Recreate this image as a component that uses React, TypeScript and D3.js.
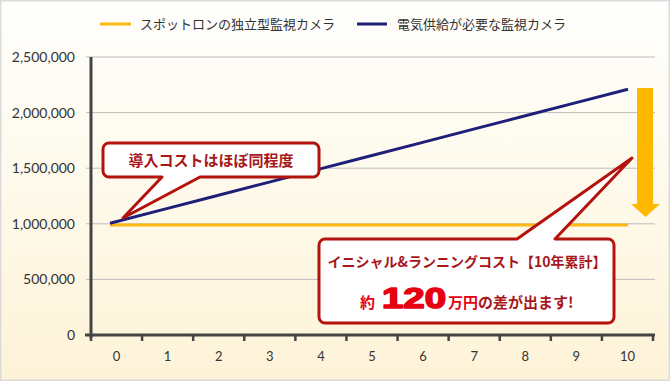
import React from "react";
import * as d3 from "d3";

const years = [0, 1, 2, 3, 4, 5, 6, 7, 8, 9, 10];
const yTickValues = [0, 500000, 1000000, 1500000, 2000000, 2500000];
const seriesNames = ["スポットロンの独立型監視カメラ", "電気供給が必要な監視カメラ"];
const seriesColors = ["#fdb813", "#1e1f78"];
const spotlonCost = [990000, 990000, 990000, 990000, 990000, 990000, 990000, 990000, 990000, 990000, 990000];
const wiredCost = [1005000, 1125000, 1246000, 1366000, 1487000, 1607000, 1728000, 1849000, 1969000, 2090000, 2210000];
const callout1Text = "導入コストはほぼ同程度";
const callout2Line1 = "イニシャル&ランニングコスト【10年累計】";
const callout2Pre = "約";
const callout2Num = "120";
const callout2Red = "万円";
const callout2Post = "の差が出ます!";

const W = 670;
const H = 381;
const DARK_RED = "#a8161b";
const BRIGHT_RED = "#e60012";
const STROKE_RED = "#b3120d";
const JP = "'Noto Sans CJK JP', 'Noto Sans', sans-serif";
const NUM = "Lato, 'Open Sans', sans-serif";

function calloutPath(x0: number, y0: number, x1: number, y1: number, r: number,
  side: "top" | "bottom", bl: number, br: number, tx: number, ty: number) {
  const p = d3.path();
  p.moveTo(x0 + r, y0);
  if (side === "top") {
    p.lineTo(bl, y0);
    p.lineTo(tx, ty);
    p.lineTo(br, y0);
  }
  p.lineTo(x1 - r, y0);
  p.arcTo(x1, y0, x1, y0 + r, r);
  p.lineTo(x1, y1 - r);
  p.arcTo(x1, y1, x1 - r, y1, r);
  if (side === "bottom") {
    p.lineTo(br, y1);
    p.lineTo(tx, ty);
    p.lineTo(bl, y1);
  }
  p.lineTo(x0 + r, y1);
  p.arcTo(x0, y1, x0, y1 - r, r);
  p.lineTo(x0, y0 + r);
  p.arcTo(x0, y0, x0 + r, y0, r);
  p.closePath();
  return p.toString();
}

export default function App() {
  const y = d3.scaleLinear().domain([0, 2500000]).range([335, 57]);
  const xBand = d3.scaleBand<number>().domain(years).range([91, 653]).padding(0);
  const xLine = d3.scaleLinear().domain([0, 10]).range([110, 628]);
  const fmt = d3.format(",");
  const line = d3.line<number>().x((_, i) => xLine(years[i])).y((d) => y(d));
  const bandEdges = years.map((v) => xBand(v) as number).concat([xBand.range()[1]]);

  return (
    <svg width={W} height={H} style={{ position: "absolute", left: 0, top: 0 }}>
      <defs>
        <linearGradient id="bg" x1="0" y1="0" x2="0" y2="1">
          <stop offset="0" stopColor="#fefefc" />
          <stop offset="0.35" stopColor="#fefbf0" />
          <stop offset="1" stopColor="#fef3d8" />
        </linearGradient>
      </defs>
      <rect x={0.75} y={0.75} width={W - 1.5} height={H - 1.5} fill="url(#bg)" stroke="#dcdcdc" strokeWidth={1.5} />

      {/* legend */}
      <g fontFamily={JP} fontSize={13} fill="#333">
        <line x1={100} x2={131} y1={24} y2={24} stroke={seriesColors[0]} strokeWidth={3} />
        <text x={140} y={29}>{seriesNames[0]}</text>
        <line x1={357} x2={387} y1={24} y2={24} stroke={seriesColors[1]} strokeWidth={3} />
        <text x={397} y={29}>{seriesNames[1]}</text>
      </g>

      {/* gridlines & y labels */}
      {yTickValues.map((v) => (
        <g key={v}>
          {v > 0 && <line x1={86} x2={655} y1={y(v)} y2={y(v)} stroke="#bdbdbd" strokeWidth={1} />}
          <text x={75} y={y(v)} dy="0.36em" textAnchor="end" fontFamily={NUM} fontSize={14} fill="#333">
            {fmt(v)}
          </text>
        </g>
      ))}

      {/* axes */}
      <line x1={91} x2={91} y1={57} y2={338} stroke="#444" strokeWidth={3} />
      <line x1={85} x2={655} y1={y(0)} y2={y(0)} stroke="#444" strokeWidth={3} />
      {bandEdges.map((e, i) => (
        <line key={i} x1={e} x2={e} y1={335} y2={341} stroke="#444" strokeWidth={2.5} />
      ))}
      {years.map((v) => (
        <text key={v} x={(xBand(v) as number) + xBand.bandwidth() / 2} y={356} dy="0.35em"
          textAnchor="middle" fontFamily={NUM} fontSize={13} fill="#333">
          {v}
        </text>
      ))}

      {/* series */}
      <path d={line(spotlonCost) || ""} fill="none" stroke={seriesColors[0]} strokeWidth={3} />
      <path d={line(wiredCost) || ""} fill="none" stroke={seriesColors[1]} strokeWidth={3} />

      {/* yellow arrow */}
      <path d="M637,88 L653,88 L653,204 L660,204 L645.5,217 L631,204 L637,204 Z" fill="#ffb800" />

      {/* callout 1 */}
      <path d={calloutPath(103, 143, 319, 177, 6, "bottom", 162, 200, 123, 218)}
        fill="#fff" stroke={STROKE_RED} strokeWidth={3} strokeLinejoin="round" />
      <text x={211} y={161} dy="0.36em" textAnchor="middle" fontFamily={JP} fontWeight={700}
        fontSize={15} fill={DARK_RED}>{callout1Text}</text>

      {/* callout 2 */}
      <path d={calloutPath(319, 239, 614, 323, 6, "top", 517, 555, 632, 158)}
        fill="#fff" stroke={STROKE_RED} strokeWidth={3} strokeLinejoin="round" />
      <text x={467} y={262} dy="0.36em" textAnchor="middle" fontFamily={JP} fontWeight={700}
        fontSize={14} fill={DARK_RED}>{callout2Line1}</text>
      <text x={360} y={308} fontFamily={JP} fontWeight={700} fontSize={15} fill={BRIGHT_RED}>{callout2Pre}</text>
      <text x={382} y={308} fontFamily="'Liberation Sans', Arial, sans-serif" fontWeight={700}
        fontSize={29} fill={BRIGHT_RED} stroke={BRIGHT_RED} strokeWidth={1.6} strokeLinejoin="round"
        textLength={64} lengthAdjust="spacingAndGlyphs">{callout2Num}</text>
      <text x={448} y={308} fontFamily={JP} fontWeight={700} fontSize={15}>
        <tspan fill={BRIGHT_RED}>{callout2Red}</tspan>
        <tspan fill={DARK_RED}>{callout2Post}</tspan>
      </text>
    </svg>
  );
}
